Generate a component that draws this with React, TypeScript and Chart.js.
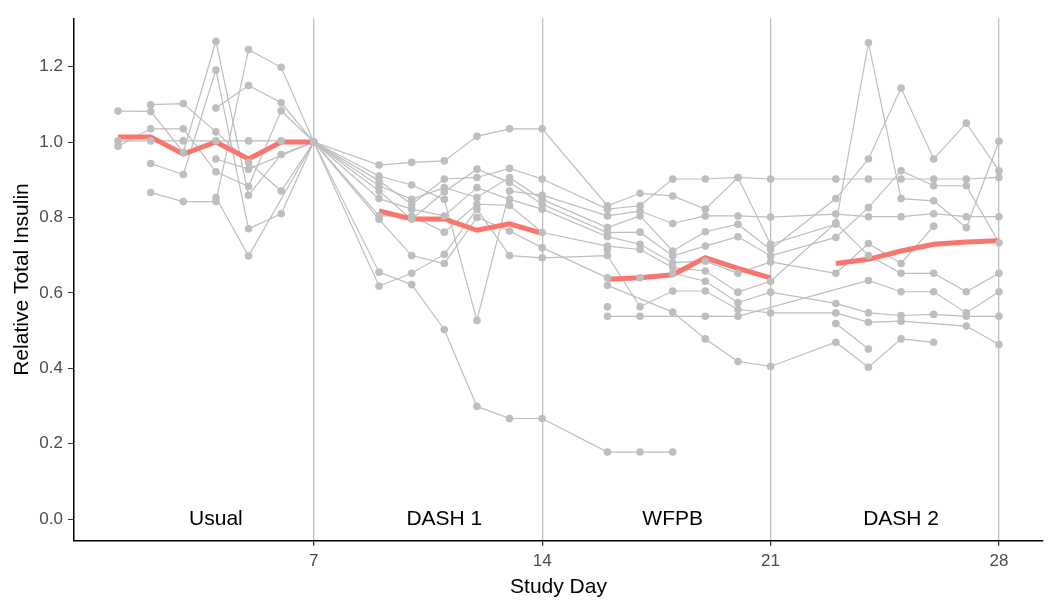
import React, { useEffect, useRef } from 'react';
import { Chart, registerables } from 'chart.js';

Chart.register(...registerables);

// ---------- data ----------
const studyDays = [1, 2, 3, 4, 5, 6, 7, 8, 9, 10, 11, 12, 13, 14, 15, 16, 17, 18, 19, 20, 21, 22, 23, 24, 25, 26, 27, 28];

const xTickValues = [7, 14, 21, 28];
const yTickValues = [0, 0.2, 0.4, 0.6, 0.8, 1.0, 1.2];

const phaseLabels = ['Usual', 'DASH 1', 'WFPB', 'DASH 2'];
const phaseLabelDays = [4, 11, 18, 25];
const phaseLabelLevel = 0;

// individual participants (relative to day 7), days 1..28; null = no measurement
const subject01 = [1.082, 1.081, 0.973, 1.267, 0.859, 0.967, 1.0, null, 0.910, 0.886, 0.848, 0.527, 0.870, 0.859, null, 0.804, 0.817, 0.784, 0.804, 0.804, 0.801, null, 0.809, 0.802, 0.802, 0.810, 0.802, 0.802];
const subject02 = [1.003, 1.003, 1.003, 1.003, 1.003, 1.003, 1.0, null, 0.897, 0.835, 0.902, 0.906, 0.930, 0.902, null, 0.822, 0.831, 0.902, 0.902, 0.906, 0.902, null, 0.902, 0.902, 0.902, 0.902, 0.902, 0.906];
const subject03 = [0.989, 1.035, 1.035, 0.921, 0.882, 1.083, 1.0, null, 0.884, 0.848, 0.879, 0.853, 0.906, 0.848, null, 0.773, 0.804, 0.711, 0.762, 0.782, 0.715, null, 0.850, 0.955, 1.143, 0.955, 1.050, 0.924];
const subject04 = [null, 1.099, 1.102, 1.027, 0.946, 0.870, 1.0, null, 0.939, 0.946, 0.950, 1.015, 1.035, 1.035, null, 0.831, 0.864, 0.857, 0.822, 0.906, 0.729, null, 0.782, 1.263, 0.850, 0.844, 0.773, 1.002];
const subject05 = [null, 0.943, 0.914, 1.191, 0.770, 0.810, 1.0, null, 0.870, 0.795, 0.868, 0.928, 0.893, 0.835, null, 0.760, 0.761, 0.698, 0.724, 0.749, 0.698, null, 0.747, 0.826, 0.924, 0.884, 0.884, 0.733];
const subject06 = [null, 0.866, 0.842, 0.842, 1.245, 1.198, 1.0, null, 0.850, 0.822, 0.804, 0.879, 0.848, 0.822, null, 0.749, 0.729, 0.680, 0.684, 0.652, 0.682, null, 0.652, 0.731, 0.678, 0.777, null, null];
const subject07 = [null, null, null, 1.090, 1.150, 1.104, 1.0, null, 0.804, 0.804, 0.761, 0.835, 0.832, 0.760, null, 0.724, 0.715, 0.667, 0.658, 0.602, 0.631, null, 0.786, 0.699, 0.652, 0.652, 0.603, 0.652];
const subject08 = [null, null, null, 0.955, 0.928, null, 1.0, null, 0.795, 0.699, 0.678, 0.800, 0.764, 0.720, null, 0.640, 0.640, 0.652, 0.631, 0.574, 0.602, null, 0.572, 0.547, 0.540, 0.543, 0.538, 0.538];
const subject09 = [null, null, null, 0.853, 0.698, null, 1.0, null, 0.618, 0.652, 0.702, 0.822, 0.699, 0.693, null, 0.699, 0.563, 0.605, 0.605, 0.556, 0.547, null, 0.547, 0.522, 0.525, null, 0.512, 0.463];
const subject10 = [null, null, null, null, null, null, 1.0, null, 0.655, 0.622, 0.503, 0.299, 0.267, 0.267, null, 0.178, 0.178, 0.178, null, null, null, null, null, null, null, null, null, null];
const subject11 = [null, null, null, null, null, null, null, null, null, null, null, null, null, null, null, 0.715, null, null, null, null, null, null, null, null, null, null, null, null];
const subject12 = [null, null, null, null, null, null, null, null, null, null, null, null, null, null, null, 0.620, null, 0.549, 0.478, 0.418, 0.405, null, 0.469, 0.403, 0.478, 0.469, null, null];
const subject13 = [null, null, null, null, null, null, null, null, null, null, null, null, null, null, null, 0.538, 0.538, null, 0.538, 0.538, null, null, null, 0.633, 0.603, 0.603, 0.547, 0.603];
const subject14 = [null, null, null, null, null, null, null, null, null, null, null, null, null, null, null, 0.563, null, null, null, null, null, null, null, null, null, null, null, null];
const subject15 = [null, null, null, null, null, null, null, null, null, null, null, null, null, null, null, null, null, null, null, null, null, null, 0.519, 0.451, null, null, null, null];

const subjects = [subject01, subject02, subject03, subject04, subject05, subject06, subject07, subject08, subject09, subject10, subject11, subject12, subject13, subject14, subject15];

// average trajectory per phase
const meanInsulin = [1.013, 1.013, 0.968, 1.0, 0.955, 1.0, 1.0, null, 0.817, 0.796, 0.796, 0.766, 0.783, 0.758, null, 0.636, 0.640, 0.648, 0.693, 0.665, 0.640, null, 0.678, 0.689, 0.711, 0.729, 0.735, 0.738];

// ---------- styles ----------
const FONT = '"Liberation Sans", Arial, Helvetica, sans-serif';
const GREY = '#BEBEBE';
const RED = '#F8766D';

const toXY = (arr: (number | null)[]) => studyDays.map((d, i) => ({ x: d, y: arr[i] }));

const phaseLabelPlugin = {
  id: 'phaseLabels',
  afterDatasetsDraw(chart: any) {
    const { ctx, scales } = chart;
    const xs = scales.x;
    const ys = scales.y;
    ctx.save();
    ctx.font = `21px ${FONT}`;
    ctx.fillStyle = '#000000';
    ctx.textAlign = 'center';
    ctx.textBaseline = 'middle';
    phaseLabels.forEach((t, i) => {
      ctx.fillText(t, xs.getPixelForValue(phaseLabelDays[i]), ys.getPixelForValue(phaseLabelLevel));
    });
    ctx.restore();
  },
};

export default function App() {
  const canvasRef = useRef<HTMLCanvasElement | null>(null);

  useEffect(() => {
    if (!canvasRef.current) return;

    const lineSets = subjects.map((s) => ({
      type: 'line' as const,
      data: toXY(s),
      borderColor: GREY,
      borderWidth: 1.2,
      pointRadius: 0,
      spanGaps: true,
      fill: false,
      order: 3,
    }));
    const pointSets = subjects.map((s) => ({
      type: 'line' as const,
      data: toXY(s),
      showLine: false,
      pointRadius: 3.8,
      pointBackgroundColor: GREY,
      pointBorderWidth: 0,
      borderColor: GREY,
      order: 1,
    }));
    const meanSet = {
      type: 'line' as const,
      data: toXY(meanInsulin),
      borderColor: RED,
      borderWidth: 5,
      pointRadius: 0,
      spanGaps: false,
      fill: false,
      order: 2,
    };

    const chart = new Chart(canvasRef.current, {
      type: 'line',
      data: { datasets: [...lineSets, meanSet, ...pointSets] as any },
      options: {
        animation: false,
        responsive: false,
        events: [],
        layout: { autoPadding: false, padding: { top: 18.3, right: 7, bottom: 0, left: 0 } },
        plugins: { legend: { display: false }, tooltip: { enabled: false } },
        scales: {
          x: {
            type: 'linear',
            min: -0.35,
            max: 29.35,
            afterBuildTicks: (axis: any) => {
              axis.ticks = xTickValues.map((v) => ({ value: v }));
            },
            afterFit: (s: any) => {
              s.height = 68.3;
            },
            ticks: {
              color: '#4D4D4D',
              font: { size: 17, family: FONT },
              padding: 5,
              autoSkip: false,
              maxRotation: 0,
              callback: (v: any) => String(v),
            },
            grid: {
              color: GREY,
              lineWidth: 1.3,
              tickColor: '#333333',
              tickLength: 5,
              drawOnChartArea: true,
            },
            border: { color: '#000000', width: 1.5 },
            title: {
              display: true,
              text: 'Study Day',
              color: '#000000',
              font: { size: 21, family: FONT },
              padding: { top: 0, bottom: 9 },
            },
          },
          y: {
            type: 'linear',
            min: -0.057,
            max: 1.328,
            afterBuildTicks: (axis: any) => {
              axis.ticks = yTickValues.map((v) => ({ value: v }));
            },
            afterFit: (s: any) => {
              s.width = 74;
            },
            ticks: {
              color: '#4D4D4D',
              font: { size: 17, family: FONT },
              padding: 5,
              callback: (v: any) => Number(v).toFixed(1),
            },
            grid: {
              drawOnChartArea: false,
              tickColor: '#333333',
              tickLength: 6,
            },
            border: { color: '#000000', width: 1.5 },
            title: {
              display: true,
              text: 'Relative Total Insulin',
              color: '#000000',
              font: { size: 21, family: FONT },
              padding: { top: 9.4, bottom: 0 },
            },
          },
        },
      },
      plugins: [phaseLabelPlugin],
    });

    return () => chart.destroy();
  }, []);

  return (
    <div style={{ position: 'fixed', left: 0, top: 0, width: 1050, height: 609, background: '#ffffff' }}>
      <canvas ref={canvasRef} width={1050} height={609} style={{ display: 'block' }} />
    </div>
  );
}
